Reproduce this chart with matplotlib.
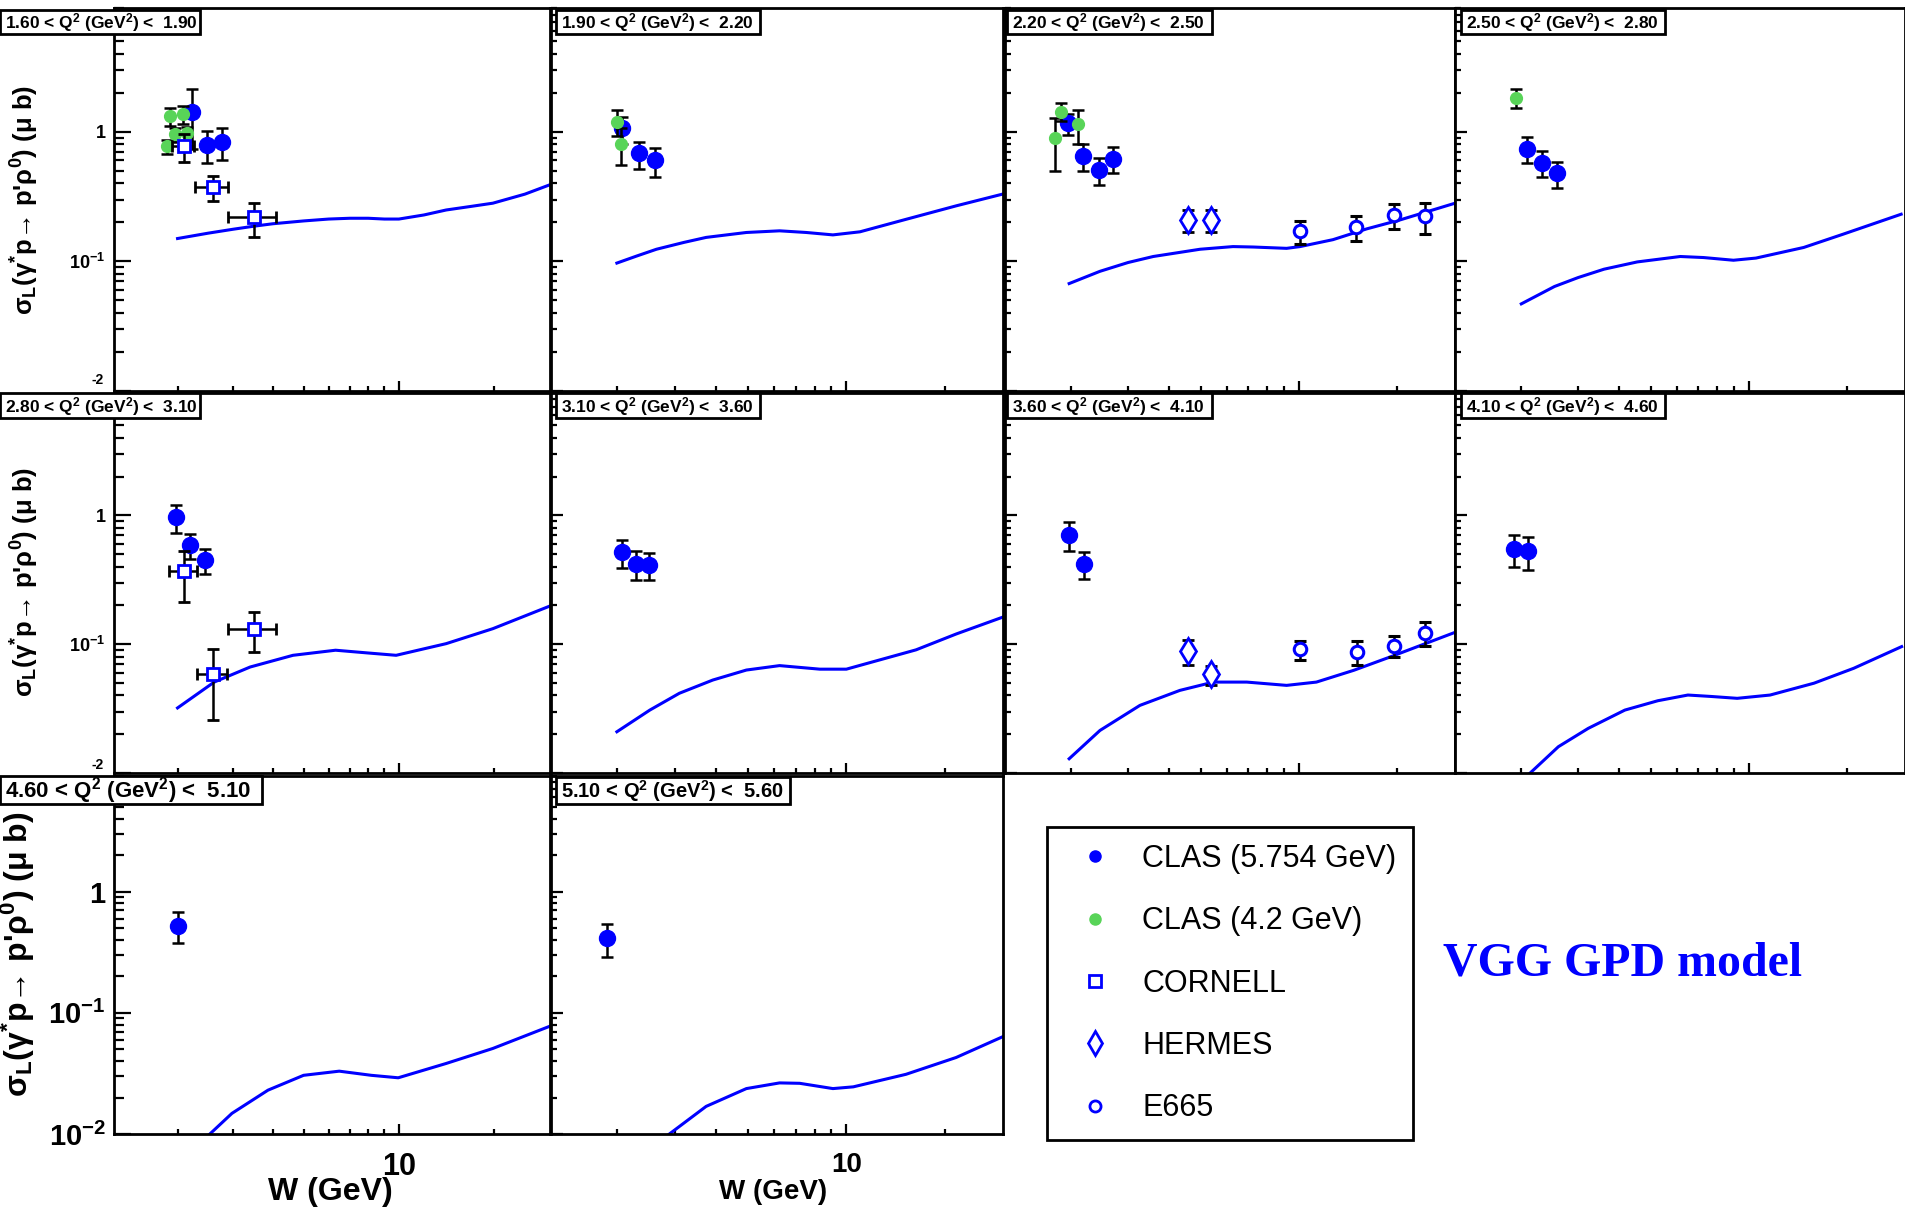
import matplotlib
matplotlib.use('Agg')
import matplotlib.pyplot as plt
from matplotlib.ticker import FixedLocator, FixedFormatter, NullFormatter
from matplotlib.lines import Line2D
from matplotlib.patches import Rectangle

plt.rcParams['font.family'] = ['Liberation Sans', 'DejaVu Sans']
plt.rcParams['mathtext.fontset'] = 'custom'
plt.rcParams['mathtext.rm'] = 'Liberation Sans'
plt.rcParams['mathtext.it'] = 'Liberation Sans:italic'
plt.rcParams['mathtext.bf'] = 'Liberation Sans:bold'

# Q^2 bins (GeV^2), one panel each
q2_lo = [1.60, 1.90, 2.20, 2.50, 2.80, 3.10, 3.60, 4.10, 4.60, 5.10]
q2_hi = [1.90, 2.20, 2.50, 2.80, 3.10, 3.60, 4.10, 4.60, 5.10, 5.60]

# CLAS 5.754 GeV  (W in GeV, sigma_L in mub)
clas57_w = [[2.22, 2.47, 2.76], [2.08, 2.33, 2.62], [1.97, 2.19, 2.45, 2.69], [2.09, 2.33, 2.58],
            [1.98, 2.19, 2.44], [2.07, 2.29, 2.50], [1.98, 2.20], [1.91, 2.11], [2.00], [1.87]]
clas57_s = [[1.43, 0.79, 0.84], [1.06, 0.68, 0.60], [1.16, 0.65, 0.51, 0.62], [0.74, 0.578, 0.478],
            [0.97, 0.59, 0.45], [0.519, 0.421, 0.414], [0.71, 0.42], [0.55, 0.525], [0.524], [0.412]]
clas57_e = [[0.70, 0.22, 0.23], [0.25, 0.16, 0.15], [0.22, 0.15, 0.12, 0.14], [0.17, 0.13, 0.11],
            [0.24, 0.13, 0.10], [0.13, 0.105, 0.10], [0.18, 0.10], [0.15, 0.15], [0.15], [0.125]]

# CLAS 4.2 GeV
clas42_w = [[1.85, 1.90, 1.96, 2.08, 2.15], [2.00, 2.06], [1.79, 1.87, 2.10], [1.93], [], [], [], [], [], []]
clas42_s = [[0.77, 1.32, 0.955, 1.36, 0.97], [1.19, 0.81], [0.89, 1.43, 1.14], [1.83], [], [], [], [], [], []]
clas42_e = [[0.10, 0.21, 0.12, 0.21, 0.12], [0.27, 0.26], [0.39, 0.23, 0.33], [0.30], [], [], [], [], [], []]

# CORNELL
cornell_w = [[2.09, 2.58, 3.49], [], [], [], [2.09, 2.59, 3.49], [], [], [], [], []]
cornell_s = [[0.776, 0.373, 0.218], [], [], [], [0.371, 0.0589, 0.132], [], [], [], [], []]
cornell_e = [[0.19, 0.083, 0.063], [], [], [], [0.16, 0.033, 0.045], [], [], [], [], []]
cornell_we = [[0.17, 0.31, 0.60], [], [], [], [0.21, 0.28, 0.60], [], [], [], [], []]

# HERMES
hermes_w = [[], [], [4.58, 5.38], [], [], [], [4.58, 5.37], [], [], []]
hermes_s = [[], [], [0.209, 0.209], [], [], [], [0.0887, 0.0583], [], [], []]
hermes_e = [[], [], [0.04, 0.04], [], [], [], [0.02, 0.01], [], [], []]

# E665
e665_w = [[], [], [10.07, 14.96, 19.47, 24.2], [], [], [], [10.07, 15.0, 19.5, 24.2], [], [], []]
e665_s = [[], [], [0.170, 0.183, 0.227, 0.222], [], [], [], [0.091, 0.087, 0.097, 0.123], [], [], []]
e665_e = [[], [], [0.033, 0.040, 0.049, 0.058], [], [], [], [0.015, 0.018, 0.018, 0.027], [], [], []]

# VGG GPD model curves
vgg_w = [
    [2.0, 2.5, 3.0, 3.5, 4.0, 5.0, 6.0, 7.0, 8.0, 9.0, 10.0, 12.0, 14.1, 17.0, 19.8, 25.0, 30.0],
    [2.0, 2.3, 2.64, 3.2, 3.74, 4.96, 6.26, 7.55, 9.1, 11.0, 15.2, 21.6, 29.9],
    [1.98, 2.46, 3.0, 3.58, 4.98, 6.28, 7.24, 9.16, 10.07, 12.7, 16.1, 20.4, 29.6],
    [2.01, 2.54, 3.0, 3.6, 4.55, 6.16, 7.26, 8.96, 10.5, 14.7, 19.4, 29.2],
    [2.0, 2.61, 3.39, 4.63, 6.31, 7.98, 9.8, 14.1, 19.8, 30.0],
    [2.0, 2.52, 3.1, 3.92, 4.96, 6.26, 8.3, 10.0, 16.3, 21.6, 29.9],
    [1.98, 2.46, 3.26, 4.32, 5.47, 6.92, 9.16, 11.3, 14.7, 19.0, 29.6],
    [2.14, 2.61, 3.22, 4.17, 5.26, 6.5, 7.64, 9.2, 11.6, 15.8, 20.9, 29.3],
    [2.53, 2.97, 3.86, 5.0, 6.48, 8.18, 9.95, 14.1, 19.8, 30.0],
    [2.89, 3.74, 4.96, 6.26, 7.21, 9.1, 10.5, 15.2, 21.6, 29.9],
]
vgg_s = [
    [0.150, 0.165, 0.177, 0.187, 0.195, 0.205, 0.212, 0.215, 0.215, 0.212, 0.212, 0.228, 0.249, 0.266, 0.281, 0.33, 0.39],
    [0.097, 0.110, 0.124, 0.140, 0.153, 0.167, 0.172, 0.167, 0.160, 0.169, 0.211, 0.268, 0.33],
    [0.0674, 0.0838, 0.098, 0.109, 0.124, 0.130, 0.129, 0.126, 0.130, 0.147, 0.178, 0.209, 0.278],
    [0.047, 0.064, 0.075, 0.087, 0.099, 0.109, 0.107, 0.102, 0.106, 0.128, 0.162, 0.231],
    [0.032, 0.0508, 0.0665, 0.082, 0.0898, 0.0855, 0.082, 0.101, 0.132, 0.198],
    [0.0209, 0.0308, 0.0416, 0.0527, 0.063, 0.0682, 0.064, 0.064, 0.0904, 0.12, 0.162],
    [0.0129, 0.0214, 0.0335, 0.0438, 0.0508, 0.0508, 0.0479, 0.0508, 0.0627, 0.0796, 0.122],
    [0.0100, 0.016, 0.0222, 0.0308, 0.0364, 0.0403, 0.0393, 0.038, 0.0403, 0.0498, 0.065, 0.0958],
    [0.0100, 0.0148, 0.023, 0.0305, 0.033, 0.0305, 0.0291, 0.0382, 0.0508, 0.0776],
    [0.0100, 0.0169, 0.0237, 0.0264, 0.0262, 0.0237, 0.0245, 0.0311, 0.0428, 0.0634],
]

# axis ticks
x_major = [10]
x_minor = [2, 3, 4, 5, 6, 7, 8, 9, 20]
y_major = [0.01, 0.1, 1]
y_minor = [k * d for d in (0.01, 0.1, 1) for k in range(2, 10)]
y_labels_top = ['', r'10$^{\mathbf{-1}}$', '1']
y_labels_bottom = [r'10$^{\mathbf{-2}}$', r'10$^{\mathbf{-1}}$', '1']

legend_labels = ['CLAS (5.754 GeV)', 'CLAS (4.2 GeV)', 'CORNELL', 'HERMES', 'E665']

BLUE = '#0000ff'
GREEN = '#58d458'

W_PX, H_PX = 1905, 1211
fig = plt.figure(figsize=(W_PX / 100, H_PX / 100), dpi=100)


def fx(x):
    return x / W_PX


def fy(y):
    return 1 - y / H_PX


col_px = [(114, 550), (551, 1003), (1005, 1455), (1455, 1905)]
row_px = [(8, 391), (392.5, 773), (776, 1134)]

box_x = [(0, 200), (556, 760), (1007, 1212), (1461, 1665),
         (0, 200), (556, 760), (1007, 1212), (1461, 1665),
         (0, 262), (556, 790)]
box_y = [(10, 34)] * 4 + [(393, 418)] * 4 + [(776, 804), (777, 804)]
box_fs = [12.5] * 8 + [16, 14.5]

ebar = dict(ecolor='black', elinewidth=1.8, capsize=4.5, capthick=1.8, ls='none')

for i in range(10):
    r, c = divmod(i, 4)
    x0, x1 = col_px[c]
    y0, y1 = row_px[r]
    ax = fig.add_axes([fx(x0), fy(y1), fx(x1) - fx(x0), fy(y0) - fy(y1)])
    ax.set_xscale('log')
    ax.set_yscale('log')

    ax.plot(vgg_w[i], vgg_s[i], color=BLUE, lw=2.2, zorder=2)
    if clas57_w[i]:
        ax.errorbar(clas57_w[i], clas57_s[i], yerr=clas57_e[i], marker='o', ms=11.5,
                    mfc=BLUE, mec=BLUE, zorder=3, **ebar)
    if clas42_w[i]:
        ax.errorbar(clas42_w[i], clas42_s[i], yerr=clas42_e[i], marker='o', ms=8.5,
                    mfc=GREEN, mec=GREEN, zorder=4, **ebar)
    if cornell_w[i]:
        ax.errorbar(cornell_w[i], cornell_s[i], yerr=cornell_e[i], xerr=cornell_we[i],
                    marker='s', ms=9, mfc='white', mec=BLUE, mew=2, zorder=5, **ebar)
    if hermes_w[i]:
        ax.errorbar(hermes_w[i], hermes_s[i], yerr=hermes_e[i], marker='d', ms=13,
                    mfc='white', mec=BLUE, mew=2, zorder=5, **ebar)
    if e665_w[i]:
        ax.errorbar(e665_w[i], e665_s[i], yerr=e665_e[i], marker='o', ms=9,
                    mfc='white', mec=BLUE, mew=2.2, zorder=5, **ebar)

    ax.set_xlim(1.26, 30)
    ax.set_ylim(0.01, 9)
    for sp in ax.spines.values():
        sp.set_linewidth(2)

    ax.xaxis.set_major_locator(FixedLocator(x_major))
    ax.xaxis.set_minor_locator(FixedLocator(x_minor))
    ax.xaxis.set_minor_formatter(NullFormatter())
    ax.yaxis.set_major_locator(FixedLocator(y_major))
    ax.yaxis.set_minor_locator(FixedLocator(y_minor))
    ax.yaxis.set_minor_formatter(NullFormatter())

    ax.tick_params(which='both', direction='in', width=1.6, top=False, right=False)
    ax.tick_params(axis='y', which='major', length=12 if c == 0 else 8.6)
    ax.tick_params(axis='y', which='minor', length=7 if c == 0 else 4.3)
    ax.tick_params(axis='x', which='major', length=7)
    ax.tick_params(axis='x', which='minor', length=3.6)

    if r == 2:
        ax.xaxis.set_major_formatter(FixedFormatter(['10']))
        ax.tick_params(axis='x', which='major', labelsize=22 if c == 0 else 20, pad=13)
        for t in ax.get_xticklabels():
            t.set_fontweight('bold')
    else:
        ax.xaxis.set_major_formatter(NullFormatter())

    if c == 0:
        ax.yaxis.set_major_formatter(FixedFormatter(y_labels_bottom if r == 2 else y_labels_top))
        ax.tick_params(axis='y', which='major', labelsize=21 if r == 2 else 13, pad=6)
        for t in ax.get_yticklabels():
            t.set_fontweight('bold')
    else:
        ax.yaxis.set_major_formatter(NullFormatter())

    # Q^2 bin label box
    bx0, bx1 = box_x[i]
    by0, by1 = box_y[i]
    fig.add_artist(Rectangle((fx(bx0), fy(by1)), fx(bx1) - fx(bx0), fy(by0) - fy(by1),
                             transform=fig.transFigure, fc='white', ec='black', lw=2, zorder=5))
    label = r'%.2f < Q$^{\mathbf{2}}$ (GeV$^{\mathbf{2}}$) <  %.2f' % (q2_lo[i], q2_hi[i])
    fig.text(fx(bx0 + 5), fy((by0 + by1) / 2 + 1), label, ha='left', va='center',
             fontsize=box_fs[i], fontweight='bold', zorder=6)

# the "-2" exponent peeking out from the hidden 10^-2 labels of the upper rows
for yy in (380, 765):
    fig.text(fx(98), fy(yy), '-2', ha='center', va='center', fontsize=10, fontweight='bold')

ylab = r"σ$_{\mathbf{L}}$(γ$^{\mathbf{*}}$p→ p'ρ$^{\mathbf{0}}$) (μ b)"
fig.text(fx(25), fy(200), ylab, rotation=90, ha='center', va='center', fontsize=18.5, fontweight='bold')
fig.text(fx(25), fy(582), ylab, rotation=90, ha='center', va='center', fontsize=18.5, fontweight='bold')
fig.text(fx(18), fy(954), ylab, rotation=90, ha='center', va='center', fontsize=23, fontweight='bold')

fig.text(fx(393), fy(1192), 'W (GeV)', ha='right', va='center', fontsize=23, fontweight='bold')
fig.text(fx(827), fy(1192), 'W (GeV)', ha='right', va='center', fontsize=20, fontweight='bold')

# legend
handles = [
    Line2D([], [], ls='none', marker='o', ms=8, mfc=BLUE, mec=BLUE),
    Line2D([], [], ls='none', marker='o', ms=8, mfc=GREEN, mec=GREEN),
    Line2D([], [], ls='none', marker='s', ms=8, mfc='white', mec=BLUE, mew=2),
    Line2D([], [], ls='none', marker='d', ms=12, mfc='white', mec=BLUE, mew=2),
    Line2D([], [], ls='none', marker='o', ms=8, mfc='white', mec=BLUE, mew=2),
]
leg = fig.legend(handles, legend_labels, loc='upper left', bbox_to_anchor=(fx(1047), fy(827)),
                 bbox_transform=fig.transFigure, borderaxespad=0, fontsize=22,
                 borderpad=0.55, labelspacing=1.06, handlelength=2.05, handletextpad=0.51,
                 fancybox=False, framealpha=1, edgecolor='black')
leg.get_frame().set_linewidth(2)

fig.text(fx(1443), fy(964), 'VGG GPD model', ha='left', va='center', color=BLUE,
         fontsize=34.5, fontweight='bold', family='Liberation Serif')

fig.savefig('out.png', dpi=100)
